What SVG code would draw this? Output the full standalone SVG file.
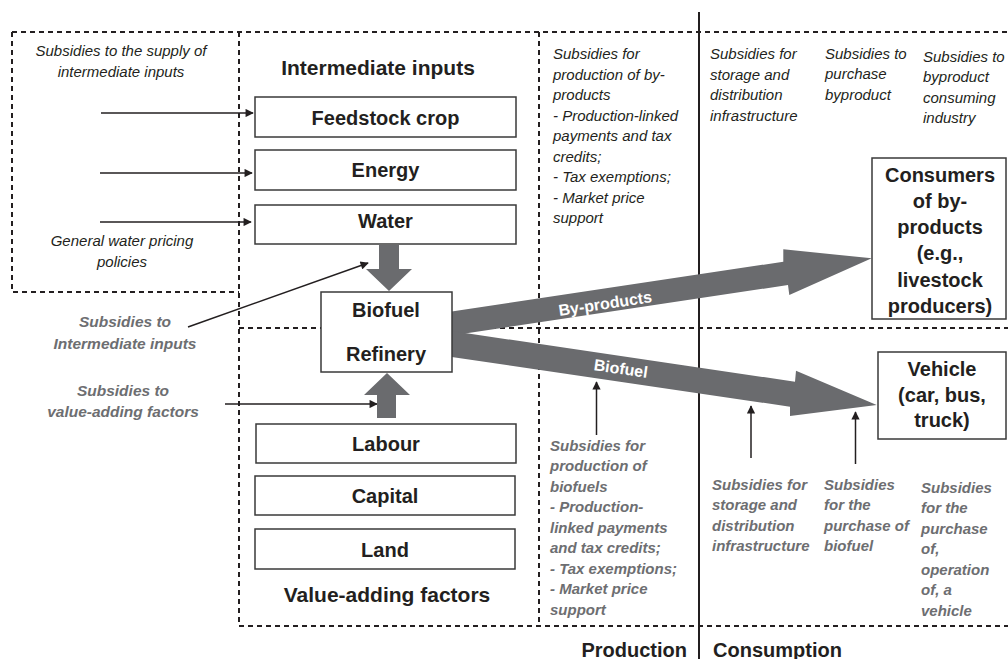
<svg xmlns="http://www.w3.org/2000/svg" width="1008" height="659" viewBox="0 0 1008 659">
<style>
.dash{fill:none;stroke:#231f20;stroke-width:2;stroke-dasharray:5 4}
.box{fill:#fff;stroke:#3a3a3a;stroke-width:1.5}
.bx{font-family:"Liberation Sans",Arial,sans-serif;font-weight:bold;font-size:20px;text-anchor:middle;fill:#231f20}
.it{font-family:"Liberation Sans",Arial,sans-serif;font-style:italic;font-size:15px;fill:#231f20}
.gb{font-family:"Liberation Sans",Arial,sans-serif;font-style:italic;font-weight:bold;font-size:15px;fill:#6d6e71}
.wl{font-family:"Liberation Sans",Arial,sans-serif;font-weight:bold;font-size:16px;fill:#fff;text-anchor:middle}
.thin{fill:none;stroke:#231f20;stroke-width:1.5;marker-end:url(#ah)}
.big{fill:#6a6b6e}
</style>
<defs>
<marker id="ah" viewBox="0 0 10 10" refX="9" refY="5" markerWidth="6.5" markerHeight="5.5" orient="auto" markerUnits="strokeWidth">
<path d="M0,0 L10,5 L0,10 z" fill="#231f20"/>
</marker>
</defs>
<rect width="1008" height="659" fill="#fff"/>

<g id="frame">
<path class="dash" d="M12,32 H1008 M12,32 V292 H239 M239,32 V626 H1008 M239,328 H1008 M539,32 V626"/>
<line x1="699" y1="12" x2="699" y2="659" stroke="#231f20" stroke-width="2"/>
</g>

<g id="connectors">
<line class="thin" x1="101" y1="113" x2="253" y2="113"/>
<line class="thin" x1="100" y1="173" x2="252" y2="173"/>
<line class="thin" x1="100" y1="222" x2="251" y2="222"/>
<line class="thin" x1="188" y1="327" x2="368" y2="263"/>
<line class="thin" x1="225" y1="404" x2="377" y2="404"/>
<line class="thin" x1="596.5" y1="435" x2="596.5" y2="382"/>
<line class="thin" x1="751" y1="458" x2="751" y2="406"/>
<line class="thin" x1="855.5" y1="464" x2="855.5" y2="412"/>
<polygon class="big" points="379,245 399,245 399,269 412,269 389,291 366,269 379,269"/>
<polygon class="big" points="377,418 396,418 396,395 410,395 387,373 364,395 377,395"/>
<polygon class="big" points="450,311.7 783.3,261.7 783.3,249.3 871.7,258.3 789.3,295 788,285 450,335.8"/>
<polygon class="big" points="450,330.8 795,381.7 796,370.7 876.7,405 790,416 790,406.7 450,356.7"/>
<text class="wl" transform="translate(606,309) rotate(-8.5)">By-products</text>
<text class="wl" transform="translate(620,374) rotate(8.4)">Biofuel</text>
</g>

<g id="title-intermediate">
<text class="bx" x="378" y="75" style="font-size:21px">Intermediate inputs</text>
</g>
<g id="feedstock">
<rect class="box" x="255" y="97" width="261" height="40"/>
<text class="bx" x="385.5" y="125">Feedstock crop</text>
</g>
<g id="energy">
<rect class="box" x="255" y="150" width="261" height="40"/>
<text class="bx" x="385.5" y="177">Energy</text>
</g>
<g id="water">
<rect class="box" x="255" y="205" width="261" height="39"/>
<text class="bx" x="385.5" y="228">Water</text>
</g>
<g id="refinery">
<rect class="box" x="321" y="292" width="131" height="80"/>
<text class="bx" x="386" y="317">Biofuel</text>
<text class="bx" x="386" y="361">Refinery</text>
</g>
<g id="labour">
<rect class="box" x="256" y="424" width="260" height="39"/>
<text class="bx" x="386" y="451">Labour</text>
</g>
<g id="capital">
<rect class="box" x="255" y="476" width="260" height="39"/>
<text class="bx" x="385" y="503">Capital</text>
</g>
<g id="land">
<rect class="box" x="255" y="529" width="260" height="40"/>
<text class="bx" x="385" y="557">Land</text>
</g>
<g id="title-value">
<text class="bx" x="387" y="602" style="font-size:21px">Value-adding factors</text>
</g>
<g id="consumers">
<rect class="box" x="872" y="158" width="134" height="161"/>
<text class="bx" x="940" y="181.5">Consumers</text>
<text class="bx" x="940" y="207.8">of by-</text>
<text class="bx" x="940" y="234.1">products</text>
<text class="bx" x="940" y="260.4">(e.g.,</text>
<text class="bx" x="940" y="286.7">livestock</text>
<text class="bx" x="940" y="313">producers)</text>
</g>
<g id="vehicle">
<rect class="box" x="878" y="352" width="128" height="87"/>
<text class="bx" x="942" y="376">Vehicle</text>
<text class="bx" x="942" y="401.5">(car, bus,</text>
<text class="bx" x="942" y="427">truck)</text>
</g>

<g id="labels-top">
<text class="it" x="121" y="56" text-anchor="middle">Subsidies to the supply of</text>
<text class="it" x="121" y="76.5" text-anchor="middle">intermediate inputs</text>
<text class="it" x="122" y="246" text-anchor="middle">General water pricing</text>
<text class="it" x="122" y="266.5" text-anchor="middle">policies</text>
<text class="it" x="553" y="59">Subsidies for</text>
<text class="it" x="553" y="79.5">production of by-</text>
<text class="it" x="553" y="100">products</text>
<text class="it" x="553" y="120.5">- Production-linked</text>
<text class="it" x="553" y="141">payments and tax</text>
<text class="it" x="553" y="161.5">credits;</text>
<text class="it" x="553" y="182">- Tax exemptions;</text>
<text class="it" x="553" y="202.5">- Market price</text>
<text class="it" x="553" y="223">support</text>
<text class="it" x="710" y="59">Subsidies for</text>
<text class="it" x="710" y="79.5">storage and</text>
<text class="it" x="710" y="100">distribution</text>
<text class="it" x="710" y="120.5">infrastructure</text>
<text class="it" x="825" y="58.5">Subsidies to</text>
<text class="it" x="825" y="79">purchase</text>
<text class="it" x="825" y="99.5">byproduct</text>
<text class="it" x="923" y="61.5">Subsidies to</text>
<text class="it" x="923" y="82">byproduct</text>
<text class="it" x="923" y="102.5">consuming</text>
<text class="it" x="923" y="123">industry</text>
</g>

<g id="labels-bottom">
<text class="gb" x="125" y="327" text-anchor="middle" style="font-size:15.5px">Subsidies to</text>
<text class="gb" x="125" y="348.5" text-anchor="middle" style="font-size:15.5px">Intermediate inputs</text>
<text class="gb" x="123" y="395.5" text-anchor="middle" style="font-size:15.5px">Subsidies to</text>
<text class="gb" x="123" y="417" text-anchor="middle" style="font-size:15.5px">value-adding factors</text>
<text class="gb" x="550" y="450.7">Subsidies for</text>
<text class="gb" x="550" y="471.2">production of</text>
<text class="gb" x="550" y="491.7">biofuels</text>
<text class="gb" x="550" y="512.2">- Production-</text>
<text class="gb" x="550" y="532.7">linked payments</text>
<text class="gb" x="550" y="553.2">and tax credits;</text>
<text class="gb" x="550" y="573.7">- Tax exemptions;</text>
<text class="gb" x="550" y="594.2">- Market price</text>
<text class="gb" x="550" y="614.7">support</text>
<text class="gb" x="712" y="489.5">Subsidies for</text>
<text class="gb" x="712" y="510">storage and</text>
<text class="gb" x="712" y="530.5">distribution</text>
<text class="gb" x="712" y="551">infrastructure</text>
<text class="gb" x="824" y="489.5">Subsidies</text>
<text class="gb" x="824" y="510">for the</text>
<text class="gb" x="824" y="530.5">purchase of</text>
<text class="gb" x="824" y="551">biofuel</text>
<text class="gb" x="921" y="492.5">Subsidies</text>
<text class="gb" x="921" y="513">for the</text>
<text class="gb" x="921" y="533.5">purchase</text>
<text class="gb" x="921" y="554">of,</text>
<text class="gb" x="921" y="574.5">operation</text>
<text class="gb" x="921" y="595">of, a</text>
<text class="gb" x="921" y="615.5">vehicle</text>
</g>

<g id="section-labels">
<text class="bx" x="687" y="657" style="text-anchor:end">Production</text>
<text class="bx" x="713" y="657" style="text-anchor:start">Consumption</text>
</g>
</svg>
